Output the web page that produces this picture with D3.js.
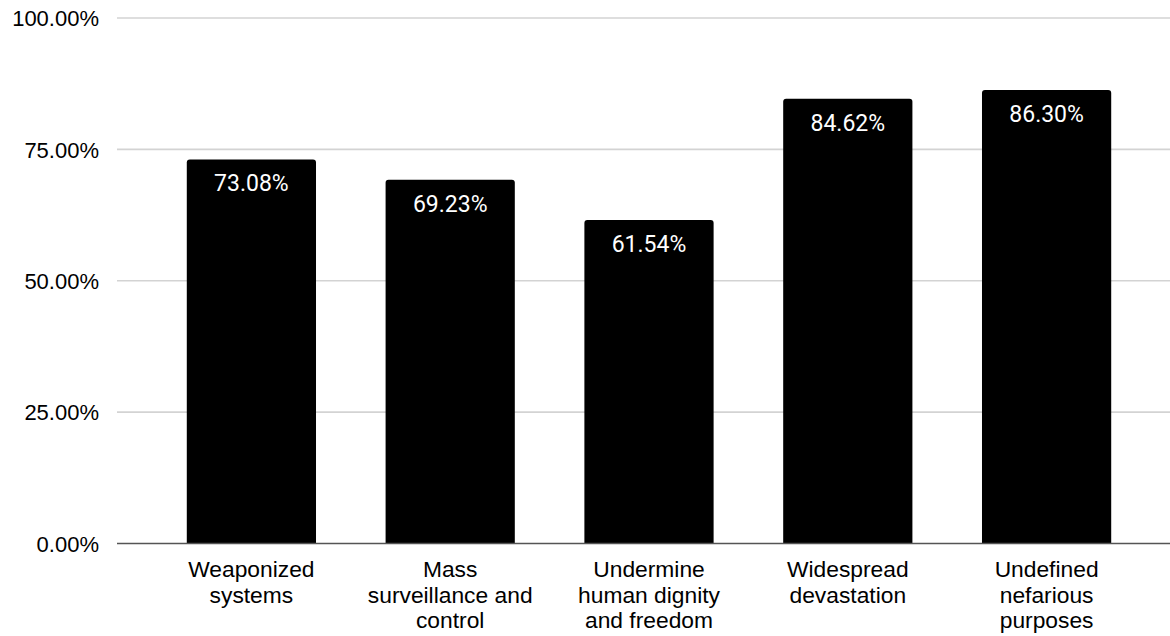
<!DOCTYPE html>
<html>
<head>
<meta charset="utf-8">
<script src="https://cdn.jsdelivr.net/npm/d3@7"></script>
<style>
  html, body { margin: 0; padding: 0; background: #fff; }
  svg { display: block; }
</style>
</head>
<body>
<svg id="chart" width="1170" height="636"></svg>
<script>
// Share of responses per concern category
const categories = [
  "Weaponized systems",
  "Mass surveillance and control",
  "Undermine human dignity and freedom",
  "Widespread devastation",
  "Undefined nefarious purposes"
];
const categoryLines = [
  ["Weaponized", "systems"],
  ["Mass", "surveillance and", "control"],
  ["Undermine", "human dignity", "and freedom"],
  ["Widespread", "devastation"],
  ["Undefined", "nefarious", "purposes"]
];
const values = [73.08, 69.23, 61.54, 84.62, 86.30];
const yTicks = [0, 25, 50, 75, 100];

const svg = d3.select("#chart");
const plot = { left: 117, right: 1170, top: 18, bottom: 543.5 };

const x = d3.scaleBand()
  .domain(categories)
  .range([152, 1146])
  .paddingInner(0.35)
  .paddingOuter(0.175);

const y = d3.scaleLinear()
  .domain([0, 100])
  .range([plot.bottom, plot.top]);

// Horizontal gridlines
svg.append("g")
  .selectAll("line")
  .data(yTicks.filter(d => d > 0))
  .join("line")
  .attr("x1", plot.left)
  .attr("x2", plot.right)
  .attr("y1", d => y(d))
  .attr("y2", d => y(d))
  .attr("stroke", "#d3d3d3")
  .attr("stroke-width", 1.6);

// Y axis labels
const yAxis = d3.axisLeft(y)
  .tickValues(yTicks)
  .tickSize(0)
  .tickPadding(0)
  .tickFormat(d => d3.format(".2f")(d) + "%");

svg.append("g")
  .attr("transform", `translate(99,0)`)
  .call(yAxis)
  .call(g => g.select(".domain").remove())
  .call(g => g.selectAll("text")
    .attr("font-family", "Liberation Sans, Arial, sans-serif")
    .attr("font-size", 22)
    .attr("fill", "#000")
    .attr("dy", "0.35em"));

// Bars with slightly rounded top corners
const r = 3;
function barPath(x0, w, yTop, yBase) {
  return `M${x0},${yBase}V${yTop + r}Q${x0},${yTop} ${x0 + r},${yTop}` +
         `H${x0 + w - r}Q${x0 + w},${yTop} ${x0 + w},${yTop + r}V${yBase}Z`;
}

svg.append("g")
  .selectAll("path")
  .data(values)
  .join("path")
  .attr("d", (d, i) => barPath(x(categories[i]), x.bandwidth(), y(d), y(0)))
  .attr("fill", "#000");

// Value labels inside bars
svg.append("g")
  .selectAll("text")
  .data(values)
  .join("text")
  .attr("x", (d, i) => x(categories[i]) + x.bandwidth() / 2)
  .attr("y", d => y(d) + 32)
  .attr("text-anchor", "middle")
  .attr("font-family", "Roboto, sans-serif")
  .attr("font-size", 23)
  .attr("fill", "#fff")
  .text(d => d3.format(".2f")(d) + "%");

// Baseline
svg.append("line")
  .attr("x1", plot.left)
  .attr("x2", plot.right)
  .attr("y1", y(0))
  .attr("y2", y(0))
  .attr("stroke", "#555")
  .attr("stroke-width", 1.6);

// Category labels
const catG = svg.append("g")
  .selectAll("text")
  .data(categories)
  .join("text")
  .attr("x", d => x(d) + x.bandwidth() / 2)
  .attr("y", 577)
  .attr("text-anchor", "middle")
  .attr("font-family", "Liberation Sans, Arial, sans-serif")
  .attr("font-size", 22.8)
  .attr("fill", "#000");

catG.each(function(d, i) {
  d3.select(this).selectAll("tspan")
    .data(categoryLines[i])
    .join("tspan")
    .attr("x", x(d) + x.bandwidth() / 2)
    .attr("dy", (t, j) => j === 0 ? 0 : 25.5)
    .text(t => t);
});
</script>
</body>
</html>
